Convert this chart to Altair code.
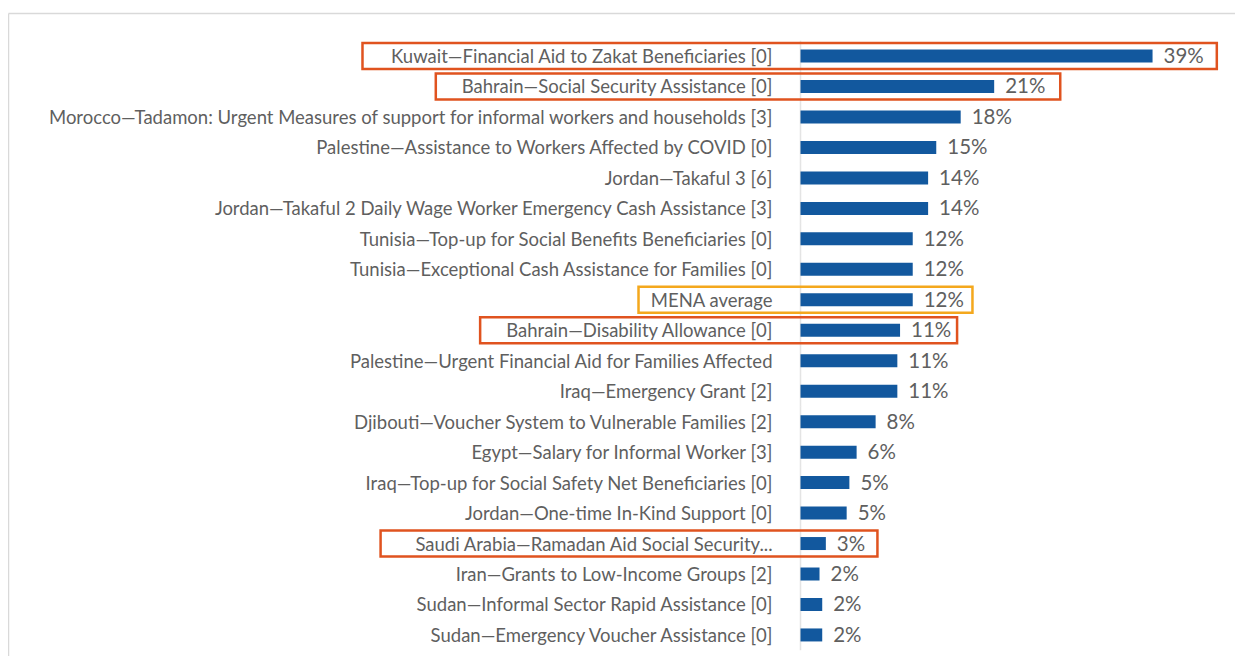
import altair as alt
import pandas as pd

categories = [
    "Kuwait\u2014Financial Aid to Zakat Beneficiaries [0]",
    "Bahrain\u2014Social Security Assistance [0]",
    "Morocco\u2014Tadamon: Urgent Measures of support for informal workers and households [3]",
    "Palestine\u2014Assistance to Workers Affected by COVID [0]",
    "Jordan\u2014Takaful 3 [6]",
    "Jordan\u2014Takaful 2 Daily Wage Worker Emergency Cash Assistance [3]",
    "Tunisia\u2014Top-up for Social Benefits Beneficiaries [0]",
    "Tunisia\u2014Exceptional Cash Assistance for Families [0]",
    "MENA average",
    "Bahrain\u2014Disability Allowance [0]",
    "Palestine\u2014Urgent Financial Aid for Families Affected",
    "Iraq\u2014Emergency Grant [2]",
    "Djibouti\u2014Voucher System to Vulnerable Families [2]",
    "Egypt\u2014Salary for Informal Worker [3]",
    "Iraq\u2014Top-up for Social Safety Net Beneficiaries [0]",
    "Jordan\u2014One-time In-Kind Support [0]",
    "Saudi Arabia\u2014Ramadan Aid Social Security...",
    "Iran\u2014Grants to Low-Income Groups [2]",
    "Sudan\u2014Informal Sector Rapid Assistance [0]",
    "Sudan\u2014Emergency Voucher Assistance [0]",
]
values = [0.389, 0.214, 0.177, 0.150, 0.141, 0.141, 0.124, 0.124, 0.124, 0.110,
          0.107, 0.107, 0.083, 0.062, 0.054, 0.051, 0.028, 0.021, 0.024, 0.024]

hl_cats = [categories[0], categories[1], categories[8], categories[9], categories[16]]
hl_left = [-0.484, -0.403, -0.179, -0.354, -0.464]
hl_right = [0.460, 0.287, 0.190, 0.173, 0.085]
hl_color = ["#E0531F", "#E0531F", "#F4A81D", "#E0531F", "#E0531F"]

df = pd.DataFrame({"cat": categories, "value": values})
hl = pd.DataFrame({"cat": hl_cats, "left": hl_left, "right": hl_right, "color": hl_color})

W, H = 1227, 643
x_scale = alt.Scale(domain=[-0.8757, 0.4801], nice=False, zero=False)
y_scale = alt.Scale(domain=categories, paddingInner=0, paddingOuter=0.5515, align=0.827)

label_color = "#5F5F5F"
font = "Lato"

y_enc = alt.Y("cat:N", sort=categories, scale=y_scale, title=None,
              axis=alt.Axis(labels=False, ticks=False, grid=False, domainColor="#D9D9D9",
                            domainWidth=1.5, orient="left"))
x_axis = alt.Axis(orient="top", labels=False, ticks=False, grid=False,
                  domainColor="#D9D9D9", domainWidth=1.5)

base = alt.Chart(df)

axis_line = base.mark_tick(orient="vertical", size=30.6, thickness=1.5, color="#D9D9D9").encode(
    x=alt.X(datum=0, type="quantitative", scale=x_scale, axis=x_axis, title=None),
    y=y_enc,
)

bars = base.mark_bar(size=13, color="#12589E").encode(
    x=alt.X("value:Q", scale=x_scale, axis=x_axis, title=None),
    y=y_enc,
)

values_txt = base.mark_text(align="left", baseline="middle", dx=11, dy=1, fontSize=20.5,
                            font=font, color=label_color).encode(
    x=alt.X("value:Q", scale=x_scale, axis=x_axis, title=None),
    y=y_enc,
    text=alt.Text("value:Q", format=".0%"),
)

labels_txt = base.mark_text(align="right", baseline="middle", dx=-28, dy=1, fontSize=18.5,
                            font=font, color=label_color).encode(
    x=alt.X(datum=0, type="quantitative", scale=x_scale, axis=x_axis, title=None),
    y=y_enc,
    text="cat:N",
)

boxes = alt.Chart(hl).mark_rect(filled=False, strokeWidth=2.5, height=26).encode(
    x=alt.X("left:Q", scale=x_scale, axis=x_axis, title=None),
    x2="right:Q",
    y=y_enc,
    stroke=alt.Stroke("color:N", scale=None),
)

chart = alt.layer(axis_line, bars, values_txt, labels_txt, boxes).properties(
    width=W, height=H,
    padding={"left": 0, "top": 5, "right": 0, "bottom": 0},
).configure_view(stroke="transparent")

chart.save("out.html", embed_options={"renderer": "svg", "actions": False})
